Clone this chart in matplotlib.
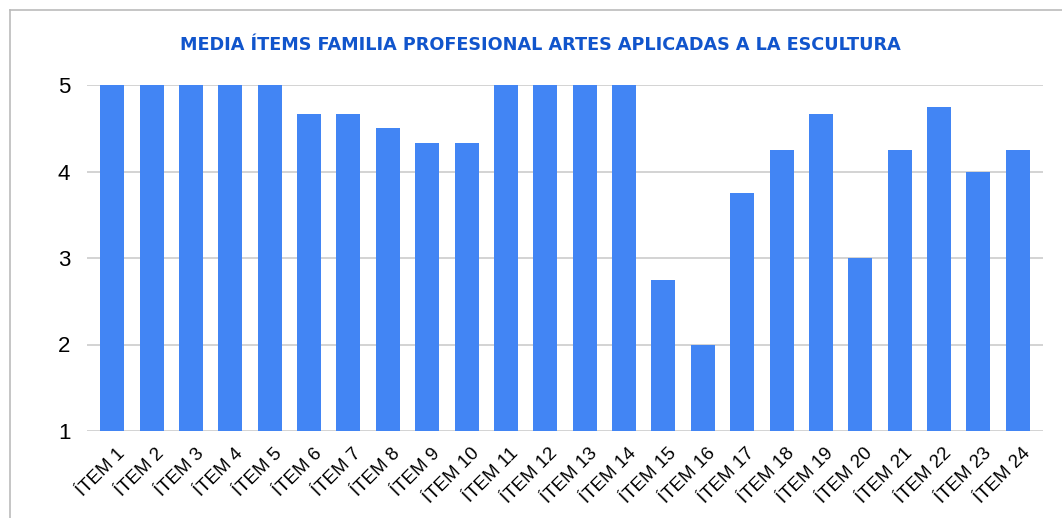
import matplotlib.pyplot as plt
from matplotlib.lines import Line2D
from matplotlib.transforms import ScaledTranslation

# data
items = ["ÍTEM %d" % i for i in range(1, 25)]
means = [5, 5, 5, 5, 5, 4.67, 4.67, 4.5, 4.33, 4.33, 5, 5,
         5, 5, 2.75, 2.0, 3.75, 4.25, 4.67, 3.0, 4.25, 4.75, 4.0, 4.25]
yticks = [1, 2, 3, 4, 5]

plt.rcParams['font.family'] = ['Liberation Sans', 'DejaVu Sans']

fig = plt.figure(figsize=(10.62, 5.18), dpi=100)
ax = fig.add_axes([87 / 1062, 1 - 431 / 518, (1043 - 87) / 1062, (431 - 85) / 518])

x = range(len(items))
ax.bar(x, [m - 1 for m in means], bottom=1, width=0.61, color='#4285F4', zorder=3)

ax.set_ylim(1, 5)
ax.set_xlim(-0.64, len(items) - 0.36)
ax.set_yticks(yticks)
ax.set_yticklabels([str(t) for t in yticks], fontsize=16)
ax.set_xticks(list(x))
ax.set_xticklabels(items, rotation=45, ha='right', rotation_mode='anchor', fontsize=13.5)
ax.tick_params(length=0, pad=12)
ax.tick_params(axis='x', pad=10)
# nudge the slanted labels a little to the right, like the original
shift = ScaledTranslation(4 / 100, 0, fig.dpi_scale_trans)
for lbl in ax.get_xticklabels():
    lbl.set_transform(lbl.get_transform() + shift)
ax.grid(axis='y', color='#cccccc', linewidth=1.2, zorder=0)
for s in ax.spines.values():
    s.set_visible(False)

fig.text(540 / 1062, 1 - 45 / 518, "MEDIA ÍTEMS FAMILIA PROFESIONAL ARTES APLICADAS A LA ESCULTURA",
         ha='center', va='center', color='#1155CC', fontsize=12.7, fontweight='bold',
         family=['DejaVu Sans'])

# card border (top and left edges only visible)
fig.add_artist(Line2D([10 / 1062, 1], [1 - 10 / 518] * 2, color='#bbbbbb', lw=1.2, transform=fig.transFigure))
fig.add_artist(Line2D([10 / 1062] * 2, [0, 1 - 10 / 518], color='#bbbbbb', lw=1.2, transform=fig.transFigure))

fig.savefig('out.png', dpi=100)
